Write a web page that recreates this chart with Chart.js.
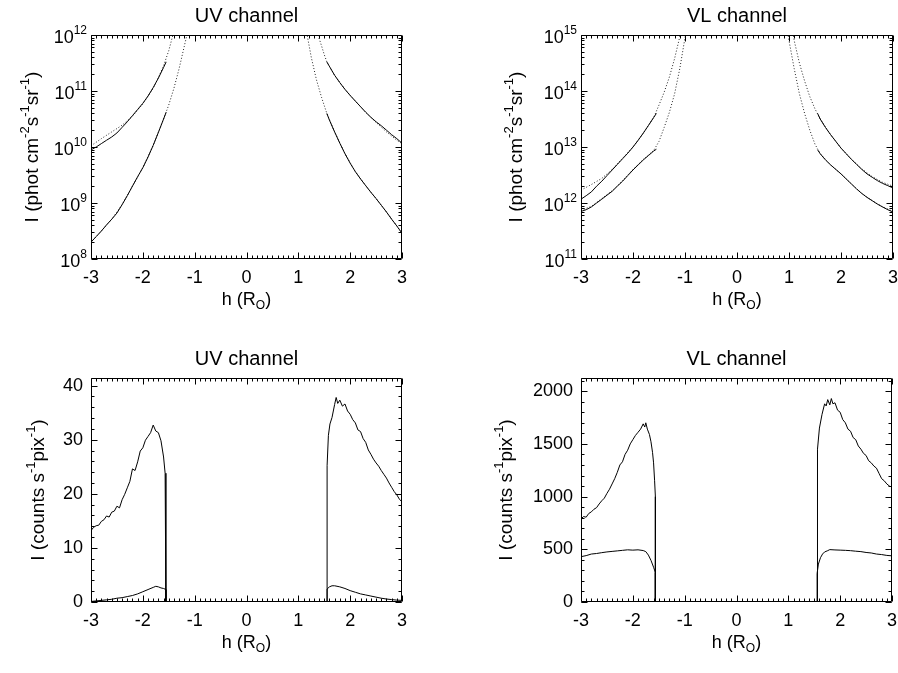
<!DOCTYPE html>
<html lang="en">
<head>
  <meta charset="UTF-8" />
  <title>UV / VL channel profiles</title>
  <script src="https://cdn.jsdelivr.net/npm/chart.js"></script>
  <style>
    body { margin: 0; background: #ffffff; }
    canvas.panel { position: absolute; }
  </style>
</head>
<body>
  <canvas id="uvLog" class="panel" width="449" height="336" style="left:0;top:0;width:449px;height:336px"></canvas>
  <canvas id="vlLog" class="panel" width="449" height="336" style="left:449px;top:0;width:449px;height:336px"></canvas>
  <canvas id="uvCnt" class="panel" width="449" height="337" style="left:0;top:336px;width:449px;height:337px"></canvas>
  <canvas id="vlCnt" class="panel" width="449" height="337" style="left:449px;top:336px;width:449px;height:337px"></canvas>

  <script>
    // ---- axis ticks ----
    const hTicks = [-3, -2, -1, 0, 1, 2, 3];
    const uvLogTicks = [1e8, 1e9, 1e10, 1e11, 1e12];
    const vlLogTicks = [1e11, 1e12, 1e13, 1e14, 1e15];
    const uvCntTicks = [0, 10, 20, 30, 40];
    const vlCntTicks = [0, 500, 1000, 1500, 2000];

    // ---- top panels: intensity (phot cm-2 s-1 sr-1), solid = observed ----
    const hObsLeft  = [-3.0, -2.9, -2.8, -2.7, -2.6, -2.5, -2.4, -2.3, -2.2, -2.1, -2.0, -1.9, -1.8, -1.7, -1.6, -1.55];
    const hObsRight = [1.55, 1.6, 1.7, 1.8, 1.9, 2.0, 2.1, 2.2, 2.3, 2.4, 2.5, 2.6, 2.7, 2.8, 2.9, 3.0];

    const uvUpLeft  = [8.9e9, 1.0e10, 1.15e10, 1.32e10, 1.51e10, 1.78e10, 2.24e10, 2.82e10, 3.63e10, 4.68e10, 6.03e10, 8.13e10, 1.15e11, 1.70e11, 2.63e11, 3.31e11];
    const uvLowLeft = [2.0e8, 2.51e8, 3.16e8, 4.07e8, 5.13e8, 6.61e8, 9.33e8, 1.35e9, 2.0e9, 2.95e9, 4.27e9, 6.61e9, 1.07e10, 1.82e10, 3.16e10, 4.17e10];
    const uvUpRight  = [3.31e11, 2.75e11, 1.91e11, 1.41e11, 1.07e11, 8.32e10, 6.61e10, 5.25e10, 4.17e10, 3.39e10, 2.82e10, 2.40e10, 2.0e10, 1.66e10, 1.41e10, 1.17e10];
    const uvLowRight = [3.98e10, 3.02e10, 1.86e10, 1.17e10, 7.59e9, 5.13e9, 3.63e9, 2.69e9, 2.04e9, 1.55e9, 1.20e9, 9.12e8, 6.92e8, 5.13e8, 3.89e8, 2.88e8];

    const vlUpLeft  = [1.17e12, 1.35e12, 1.58e12, 2.0e12, 2.45e12, 3.09e12, 3.89e12, 4.90e12, 6.17e12, 7.76e12, 1.0e13, 1.32e13, 1.78e13, 2.45e13, 3.39e13, 3.98e13];
    const vlLowLeft = [7.08e11, 7.59e11, 8.51e11, 1.0e12, 1.17e12, 1.38e12, 1.62e12, 2.0e12, 2.45e12, 3.09e12, 3.89e12, 4.79e12, 5.89e12, 7.08e12, 8.51e12, 9.12e12];
    const vlUpRight  = [3.98e13, 3.16e13, 2.24e13, 1.66e13, 1.26e13, 9.55e12, 7.59e12, 6.03e12, 4.90e12, 3.98e12, 3.31e12, 2.88e12, 2.51e12, 2.24e12, 2.04e12, 1.86e12];
    const vlLowRight = [8.91e12, 7.59e12, 5.89e12, 4.79e12, 3.98e12, 3.31e12, 2.69e12, 2.19e12, 1.78e12, 1.48e12, 1.26e12, 1.10e12, 9.55e11, 8.51e11, 7.59e11, 6.92e11];

    // dotted = model curves
    const hUvModUpL  = [-3.0, -2.8, -2.6, -2.4, -2.2, -2.0, -1.8, -1.7, -1.6, -1.5, -1.42, -1.35];
    const uvModUpL   = [1.05e10, 1.41e10, 1.86e10, 2.45e10, 3.55e10, 5.89e10, 1.12e11, 1.74e11, 2.82e11, 5.25e11, 1.0e12, 2.0e12];
    const hUvModLowL = [-3.0, -2.8, -2.6, -2.4, -2.2, -2.0, -1.8, -1.6, -1.5, -1.4, -1.3, -1.2, -1.15, -1.1];
    const uvModLowL  = [2.0e8, 3.16e8, 5.13e8, 9.33e8, 2.0e9, 4.27e9, 1.07e10, 3.16e10, 5.62e10, 1.12e11, 2.51e11, 6.31e11, 1.0e12, 1.78e12];
    const hUvModUpR  = [1.35, 1.38, 1.45, 1.5, 1.55, 1.7, 1.9, 2.1, 2.3, 2.5, 2.7, 2.9, 3.0];
    const uvModUpR   = [1.26e12, 1.0e12, 6.31e11, 4.47e11, 3.31e11, 1.91e11, 1.07e11, 6.61e10, 4.17e10, 2.75e10, 1.86e10, 1.32e10, 1.15e10];
    const hUvModLowR = [1.12, 1.17, 1.25, 1.35, 1.45, 1.55, 1.7, 1.9, 2.1, 2.3, 2.5, 2.7, 2.9, 3.0];
    const uvModLowR  = [1.78e12, 1.0e12, 3.98e11, 1.58e11, 7.59e10, 3.98e10, 1.86e10, 7.59e9, 3.63e9, 2.04e9, 1.20e9, 6.92e8, 3.89e8, 2.88e8];

    const hVlModUpL  = [-3.0, -2.8, -2.6, -2.4, -2.2, -2.0, -1.8, -1.6, -1.5, -1.4, -1.3, -1.2, -1.1, -1.05];
    const vlModUpL   = [1.70e12, 2.14e12, 2.75e12, 3.98e12, 6.31e12, 1.0e13, 1.78e13, 3.39e13, 5.62e13, 9.55e13, 1.78e14, 3.80e14, 9.33e14, 1.58e15];
    const hVlModLowL = [-3.0, -2.8, -2.6, -2.4, -2.2, -2.0, -1.8, -1.6, -1.5, -1.4, -1.3, -1.2, -1.1, -1.0, -0.95];
    const vlModLowL  = [7.41e11, 8.71e11, 1.20e12, 1.66e12, 2.51e12, 3.98e12, 6.03e12, 8.71e12, 1.26e13, 2.24e13, 4.17e13, 8.91e13, 2.51e14, 8.91e14, 1.58e15];
    const hVlModUpR  = [1.05, 1.1, 1.2, 1.3, 1.4, 1.5, 1.6, 1.8, 2.0, 2.2, 2.4, 2.6, 2.8, 3.0];
    const vlModUpR   = [1.58e15, 7.94e14, 3.16e14, 1.51e14, 7.94e13, 4.79e13, 3.16e13, 1.66e13, 9.55e12, 6.03e12, 4.07e12, 2.95e12, 2.34e12, 2.0e12];
    const hVlModLowR = [0.95, 1.0, 1.1, 1.2, 1.3, 1.4, 1.5, 1.6, 1.8, 2.0, 2.2, 2.4, 2.6, 2.8, 3.0];
    const vlModLowR  = [1.58e15, 7.94e14, 2.51e14, 8.91e13, 3.98e13, 2.0e13, 1.12e13, 7.59e12, 4.79e12, 3.31e12, 2.19e12, 1.48e12, 1.10e12, 8.51e11, 7.08e11];

    // ---- bottom panels: counts s-1 pix-1 (zero across the occulter) ----
    const hUvCnt = [-3.0, -2.95, -2.9, -2.85, -2.8, -2.75, -2.7, -2.65, -2.6, -2.55, -2.5, -2.45, -2.4, -2.35, -2.3, -2.25, -2.2, -2.15, -2.1, -2.05, -2.0, -1.95, -1.9, -1.85, -1.8, -1.75, -1.7, -1.65, -1.6, -1.57, -1.555, -1.555,
                    1.555, 1.555, 1.58, 1.61, 1.65, 1.7, 1.73, 1.76, 1.8, 1.85, 1.9, 1.95, 2.0, 2.05, 2.1, 2.15, 2.2, 2.25, 2.3, 2.35, 2.4, 2.45, 2.5, 2.55, 2.6, 2.65, 2.7, 2.75, 2.8, 2.85, 2.9, 2.95, 3.0];
    const uvCntUp = [13.2, 13.8, 14.1, 14.2, 14.9, 15.2, 15.9, 15.7, 16.6, 16.8, 17.7, 17.4, 18.9, 19.9, 21.1, 22.3, 24.6, 24.3, 25.9, 27.9, 28.5, 29.9, 30.6, 31.3, 32.7, 31.6, 31.3, 29.8, 26.8, 23.8, 21.8, 0,
                     0, 25.2, 30.8, 32.9, 34.1, 36.5, 37.8, 36.7, 37.3, 36.2, 36.6, 35.3, 34.7, 33.7, 33.1, 31.8, 31.5, 30.2, 29.5, 28.1, 27.3, 26.4, 25.7, 25.1, 24.3, 23.6, 22.9, 22.0, 21.2, 20.4, 19.8, 19.0, 18.5];
    const hUvCntLow = [-3.0, -2.9, -2.8, -2.7, -2.6, -2.5, -2.4, -2.3, -2.2, -2.1, -2.0, -1.9, -1.8, -1.75, -1.7, -1.65, -1.6, -1.555, -1.555,
                       1.555, 1.555, 1.6, 1.65, 1.7, 1.8, 1.9, 2.0, 2.1, 2.2, 2.3, 2.4, 2.5, 2.6, 2.7, 2.8, 2.9, 3.0];
    const uvCntLow = [0.1, 0.2, 0.3, 0.4, 0.5, 0.7, 0.8, 1.0, 1.2, 1.5, 1.9, 2.3, 2.7, 2.9, 2.8, 2.6, 2.5, 2.3, 0,
                      0, 2.4, 2.8, 3.0, 3.0, 2.8, 2.5, 2.1, 1.8, 1.5, 1.3, 1.1, 0.9, 0.7, 0.55, 0.45, 0.35, 0.3];

    const hVlCnt = [-3.0, -2.95, -2.9, -2.85, -2.8, -2.75, -2.7, -2.65, -2.6, -2.55, -2.5, -2.45, -2.4, -2.35, -2.3, -2.25, -2.2, -2.15, -2.1, -2.05, -2.0, -1.95, -1.9, -1.85, -1.8, -1.77, -1.75, -1.72, -1.68, -1.65, -1.62, -1.6, -1.58, -1.565, -1.565,
                    1.555, 1.555, 1.57, 1.6, 1.65, 1.7, 1.73, 1.76, 1.8, 1.83, 1.86, 1.9, 1.95, 2.0, 2.05, 2.1, 2.15, 2.2, 2.25, 2.3, 2.35, 2.4, 2.45, 2.5, 2.55, 2.6, 2.65, 2.7, 2.75, 2.8, 2.85, 2.9, 2.95, 3.0];
    const vlCntUp = [790, 810, 805, 840, 855, 880, 895, 930, 960, 985, 1030, 1070, 1120, 1170, 1230, 1300, 1330, 1400, 1440, 1500, 1540, 1580, 1610, 1640, 1690, 1660, 1700, 1640, 1590, 1520, 1420, 1320, 1150, 1000, 0,
                     0, 1100, 1450, 1650, 1780, 1880, 1860, 1920, 1870, 1930, 1880, 1890, 1820, 1800, 1730, 1700, 1640, 1620, 1560, 1540, 1480, 1450, 1410, 1390, 1340, 1320, 1290, 1270, 1220, 1170, 1150, 1120, 1100, 1090];
    const hVlCntLow = [-3.0, -2.9, -2.8, -2.7, -2.6, -2.5, -2.4, -2.3, -2.2, -2.1, -2.0, -1.9, -1.8, -1.75, -1.7, -1.65, -1.6, -1.565, -1.565,
                       1.555, 1.555, 1.58, 1.62, 1.66, 1.7, 1.75, 1.8, 1.9, 2.0, 2.1, 2.2, 2.3, 2.4, 2.5, 2.6, 2.7, 2.8, 2.9, 3.0];
    const vlCntLow = [430, 440, 455, 460, 468, 475, 480, 485, 490, 495, 492, 495, 488, 478, 445, 395, 330, 280, 0,
                      0, 270, 360, 420, 455, 475, 485, 497, 494, 492, 490, 487, 482, 478, 470, 465, 455, 450, 442, 438];

    const SANS = '"Liberation Sans", Arial, Helvetica, sans-serif';

    // draw a run of text pieces: [text, 'n' | 'sup' | 'sub']
    function runWidth(ctx, parts, size) {
      let w = 0;
      for (const [t, k] of parts) {
        ctx.font = (k === 'n' ? size : Math.round(size * 0.66)) + 'px ' + SANS;
        w += ctx.measureText(t).width;
      }
      return w;
    }
    function drawRun(ctx, parts, x, y, size, align) {
      const w = runWidth(ctx, parts, size);
      let cx = align === 'center' ? x - w / 2 : align === 'right' ? x - w : x;
      ctx.textAlign = 'left';
      ctx.textBaseline = 'middle';
      for (const [t, k] of parts) {
        const s = k === 'n' ? size : Math.round(size * 0.66);
        ctx.font = s + 'px ' + SANS;
        const dy = k === 'sup' ? -size * 0.38 : k === 'sub' ? size * 0.3 : 0;
        ctx.fillText(t, cx, y + dy);
        cx += ctx.measureText(t).width;
      }
    }

    const idlFrame = {
      id: 'idlFrame',
      afterDraw(chart, args, o) {
        const { ctx, chartArea: a, scales: { x, y } } = chart;
        const L = Math.round(a.left) + 0.5, R = Math.round(a.right) - 0.5;
        const T = Math.round(a.top) + 0.5, B = Math.round(a.bottom) - 0.5;
        ctx.save();
        ctx.strokeStyle = '#000';
        ctx.fillStyle = '#000';
        ctx.lineWidth = 1;
        ctx.beginPath();
        ctx.rect(L, T, R - L, B - T);

        // x ticks, inward on bottom and top
        for (let i = -30; i <= 30; i++) {
          const px = Math.round(x.getPixelForValue(i / 10)) + 0.5;
          const len = i % 10 === 0 ? 6 : 3;
          ctx.moveTo(px, B); ctx.lineTo(px, B - len);
          ctx.moveTo(px, T); ctx.lineTo(px, T + len);
        }
        // y ticks, inward on left and right
        const yMinor = [];
        if (o.log) {
          for (let i = 0; i < o.yTicks.length - 1; i++)
            for (let m = 2; m <= 9; m++) yMinor.push(o.yTicks[i] * m);
        } else {
          for (let v = y.min; v <= y.max; v += o.minorStep) yMinor.push(v);
        }
        const tickLine = (v, len) => {
          const py = Math.round(y.getPixelForValue(v)) + 0.5;
          ctx.moveTo(L, py); ctx.lineTo(L + len, py);
          ctx.moveTo(R, py); ctx.lineTo(R - len, py);
        };
        yMinor.forEach(v => tickLine(v, 3));
        o.yTicks.forEach(v => tickLine(v, 6));
        ctx.stroke();

        // tick labels
        const cx = (a.left + a.right) / 2, cy = (a.top + a.bottom) / 2;
        o.xTicks.forEach(v => drawRun(ctx, [[String(v), 'n']], x.getPixelForValue(v), a.bottom + 19, 18, 'center'));
        o.yTicks.forEach(v => {
          const py = y.getPixelForValue(v);
          const parts = o.log ? [['10', 'n'], [String(Math.round(Math.log10(v))), 'sup']] : [[String(v), 'n']];
          drawRun(ctx, parts, a.left - (o.log ? 4 : 8), py + (o.log ? 3 : 0), 18, 'right');
        });

        // titles
        drawRun(ctx, [[o.title, 'n']], cx, a.top - 19, 20, 'center');
        drawRun(ctx, [['h (R', 'n'], ['O', 'sub'], [')', 'n']], cx, a.bottom + 41, 18, 'center');
        ctx.translate(o.yTitleX, cy);
        ctx.rotate(-Math.PI / 2);
        drawRun(ctx, o.yTitle, 0, 0, 19, 'center');
        ctx.restore();
      }
    };

    function pts(xs, ys) {
      return xs.map((h, i) => ({ x: h, y: ys[i] }));
    }
    function solid(xs, ys) {
      return { data: pts(xs, ys), borderColor: '#000', borderWidth: 1, pointRadius: 0, fill: false, tension: 0 };
    }
    function dotted(xs, ys) {
      return { data: pts(xs, ys), borderColor: '#222', borderWidth: 1, borderDash: [1, 2], pointRadius: 0, fill: false, tension: 0 };
    }

    function makePanel(id, pad, datasets, yScale, frame) {
      return new Chart(document.getElementById(id), {
        type: 'line',
        data: { datasets },
        options: {
          responsive: false,
          animation: false,
          events: [],
          layout: { padding: pad },
          plugins: { legend: { display: false }, tooltip: { enabled: false }, idlFrame: frame },
          scales: {
            x: { type: 'linear', min: -3, max: 3, display: false },
            y: Object.assign({ display: false }, yScale)
          }
        },
        plugins: [idlFrame]
      });
    }

    const photTitle = [['I (phot cm', 'n'], ['-2', 'sup'], ['s', 'n'], ['-1', 'sup'], ['sr', 'n'], ['-1', 'sup'], [')', 'n']];
    const cntTitle = [['I (counts s', 'n'], ['-1', 'sup'], ['pix', 'n'], ['-1', 'sup'], [')', 'n']];

    makePanel('uvLog', { left: 91, top: 35, right: 47, bottom: 77 }, [
      solid(hObsLeft, uvUpLeft), solid(hObsLeft, uvLowLeft),
      solid(hObsRight, uvUpRight), solid(hObsRight, uvLowRight),
      dotted(hUvModUpL, uvModUpL), dotted(hUvModLowL, uvModLowL),
      dotted(hUvModUpR, uvModUpR), dotted(hUvModLowR, uvModLowR)
    ], { type: 'logarithmic', min: 1e8, max: 1e12 },
      { title: 'UV channel', log: true, xTicks: hTicks, yTicks: uvLogTicks, yTitle: photTitle, yTitleX: 33 });

    makePanel('vlLog', { left: 132, top: 35, right: 5, bottom: 77 }, [
      solid(hObsLeft, vlUpLeft), solid(hObsLeft, vlLowLeft),
      solid(hObsRight, vlUpRight), solid(hObsRight, vlLowRight),
      dotted(hVlModUpL, vlModUpL), dotted(hVlModLowL, vlModLowL),
      dotted(hVlModUpR, vlModUpR), dotted(hVlModLowR, vlModLowR)
    ], { type: 'logarithmic', min: 1e11, max: 1e15 },
      { title: 'VL channel', log: true, xTicks: hTicks, yTicks: vlLogTicks, yTitle: photTitle, yTitleX: 68 });

    makePanel('uvCnt', { left: 91, top: 42, right: 47, bottom: 71 }, [
      solid(hUvCnt, uvCntUp), solid(hUvCntLow, uvCntLow)
    ], { type: 'linear', min: 0, max: 41.4 },
      { title: 'UV channel', log: false, minorStep: 2, xTicks: hTicks, yTicks: uvCntTicks, yTitle: cntTitle, yTitleX: 39 });

    makePanel('vlCnt', { left: 132, top: 42, right: 6, bottom: 71 }, [
      solid(hVlCnt, vlCntUp), solid(hVlCntLow, vlCntLow)
    ], { type: 'linear', min: 0, max: 2125 },
      { title: 'VL channel', log: false, minorStep: 100, xTicks: hTicks, yTicks: vlCntTicks, yTitle: cntTitle, yTitleX: 58 });
  </script>
</body>
</html>
